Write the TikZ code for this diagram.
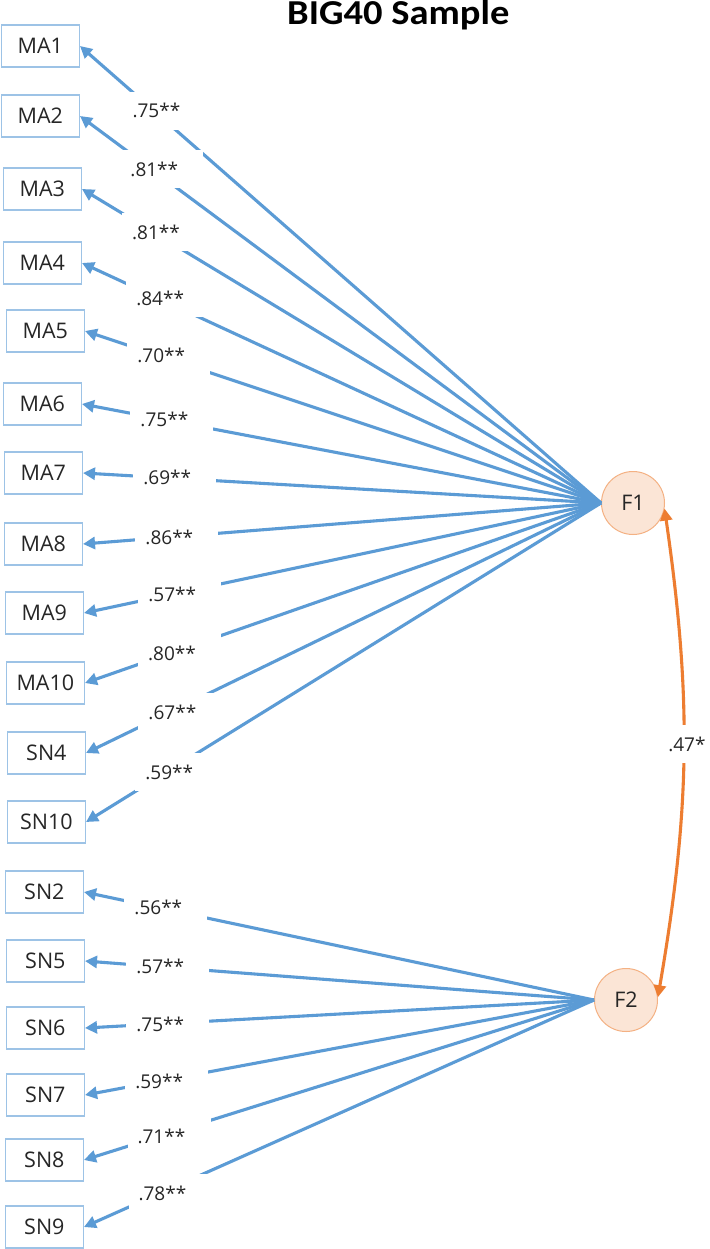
\documentclass[tikz,border=0pt]{standalone}
\usepackage{fontspec}
\setmainfont{Open Sans}
\newfontfamily\titlefont{Carlito}
\usetikzlibrary{arrows.meta,calc}
\definecolor{lineblue}{HTML}{5B9BD5}
\definecolor{boxblue}{HTML}{9DC3E6}
\definecolor{lineorange}{HTML}{ED7D31}
\definecolor{circfill}{HTML}{FBE5D6}
\definecolor{circdraw}{HTML}{F4B183}
\begin{document}
\begin{tikzpicture}[x=1pt,y=-1pt,
 obsbox/.style={draw=boxblue, line width=1.3pt, fill=white, minimum width=78pt, minimum height=42pt, inner sep=0pt, anchor=east, font=\fontsize{21.5}{24}\selectfont, text=black!85},
 latent/.style={circle, draw=circdraw, line width=1pt, fill=circfill, minimum size=63pt, inner sep=0pt, font=\fontsize{21.5}{24}\selectfont, text=black!85},
 load/.style={draw=lineblue, line width=3.1pt, -{Triangle[length=12pt,width=12pt]}},
 coef/.style={fill=white, text width=63pt, align=left, inner xsep=10pt, inner ysep=0pt, minimum height=38pt, anchor=west, xshift=-33pt, font=\fontsize{19}{21}\selectfont, text=black!85},
 corr/.style={draw=lineorange, line width=3.1pt, {Triangle[length=12pt,width=12pt]}-{Triangle[length=12pt,width=12pt]}}
]
\fill[white] (0,0) rectangle (709,1249);
\useasboundingbox (0,0) rectangle (709,1249);

\node[anchor=base west, font=\titlefont\bfseries\fontsize{35}{38}\selectfont, inner sep=0pt] (title) at (287,25) {\scalebox{1.1}[1]{BIG40 Sample}};

\node[obsbox] (MA1) at (80,46) {MA1};
\node[obsbox] (MA2) at (80,116) {MA2};
\node[obsbox] (MA3) at (82,189) {MA3};
\node[obsbox] (MA4) at (82,263) {MA4};
\node[obsbox] (MA5) at (85,331) {MA5};
\node[obsbox] (MA6) at (82,404) {MA6};
\node[obsbox] (MA7) at (83,473) {MA7};
\node[obsbox] (MA8) at (83,544) {MA8};
\node[obsbox] (MA9) at (84,613) {MA9};
\node[obsbox] (MA10) at (85,683) {MA10};
\node[obsbox] (SN4) at (86,753) {SN4};
\node[obsbox] (SN10) at (86,822) {SN10};
\node[obsbox] (SN2) at (84,892) {SN2};
\node[obsbox] (SN5) at (85,961) {SN5};
\node[obsbox] (SN6) at (85,1028) {SN6};
\node[obsbox] (SN7) at (85,1095) {SN7};
\node[obsbox] (SN8) at (84,1160) {SN8};
\node[obsbox] (SN9) at (84,1227) {SN9};

\node[latent] (F1) at (633,503) {F1};
\node[latent] (F2) at (626,1000) {F2};

\draw[load] (F1.west) -- node[coef,pos=0.858] {.75**} (MA1.east);
\draw[load] (F1.west) -- node[coef,pos=0.862] {.81**} (MA2.east);
\draw[load] (F1.west) -- node[coef,pos=0.862] {.81**} (MA3.east);
\draw[load] (F1.west) -- node[coef,pos=0.854] {.84**} (MA4.east);
\draw[load] (F1.west) -- node[coef,pos=0.857] {.70**} (MA5.east);
\draw[load] (F1.west) -- node[coef,pos=0.846] {.75**} (MA6.east);
\draw[load] (F1.west) -- node[coef,pos=0.842] {.69**} (MA7.east);
\draw[load] (F1.west) -- node[coef,pos=0.838] {.86**} (MA8.east);
\draw[load] (F1.west) -- node[coef,pos=0.834] {.57**} (MA9.east);
\draw[load] (F1.west) -- node[coef,pos=0.836] {.80**} (MA10.east);
\draw[load] (F1.west) -- node[coef,pos=0.837] {.67**} (SN4.east);
\draw[load] (F1.west) -- node[coef,pos=0.843] {.59**} (SN10.east);

\draw[load] (F2.west) -- node[coef,pos=0.859] {.56**} (SN2.east);
\draw[load] (F2.west) -- node[coef,pos=0.857] {.57**} (SN5.east);
\draw[load] (F2.west) -- node[coef,pos=0.857] {.75**} (SN6.east);
\draw[load] (F2.west) -- node[coef,pos=0.859] {.59**} (SN7.east);
\draw[load] (F2.west) -- node[coef,pos=0.853] {.71**} (SN8.east);
\draw[load] (F2.west) -- node[coef,pos=0.851] {.78**} (SN9.east);

\draw[corr] (F2.5) to[bend right=9] node[coef,pos=0.52,xshift=6pt] {.47*} (F1.-10);
\end{tikzpicture}
\end{document}
